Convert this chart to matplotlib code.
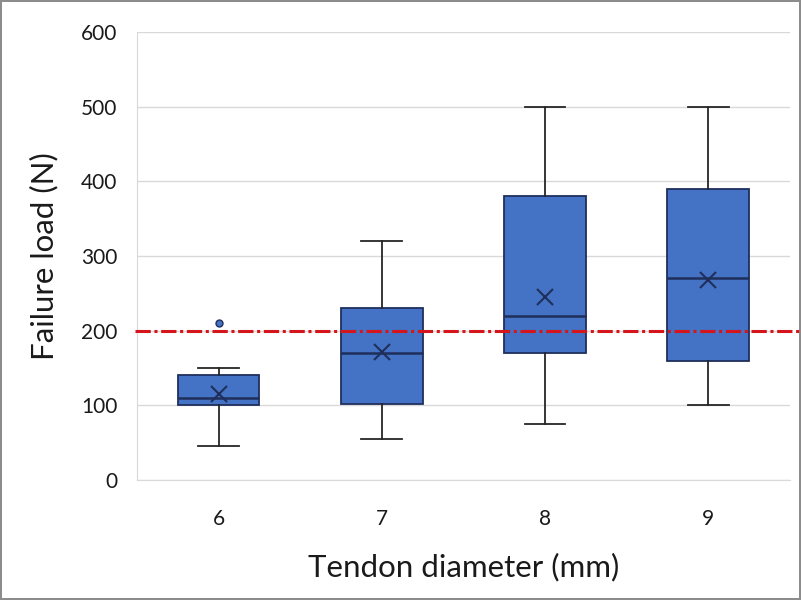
import matplotlib.pyplot as plt

diameters = ["6", "7", "8", "9"]
whisker_lo = [46, 55, 75, 100]
q1 = [100, 102, 170, 160]
medians = [110, 170, 220, 270]
q3 = [140, 230, 380, 390]
whisker_hi = [150, 320, 500, 500]
means = [115, 171, 245, 268]
outliers = [[210], [], [], []]
threshold = 200

blue = "#4472C4"
navy = "#1F2F5C"

plt.rcParams['font.family'] = ['Lato', 'DejaVu Sans']

fig = plt.figure(figsize=(8.01, 6.0), dpi=100)
fig.patch.set_edgecolor("#8c8c8c")
fig.patch.set_linewidth(1.5)
ax = fig.add_axes([0.171, 0.2, 0.815, 0.7467])

stats = []
for i in range(len(diameters)):
    stats.append(dict(label=diameters[i], whislo=whisker_lo[i], q1=q1[i], med=medians[i],
                      q3=q3[i], whishi=whisker_hi[i], mean=means[i], fliers=outliers[i]))

ax.bxp(stats, positions=range(1, 5), widths=0.5, patch_artist=True, showmeans=True,
       boxprops=dict(facecolor=blue, edgecolor=navy, linewidth=1.3),
       medianprops=dict(color=navy, linewidth=1.8),
       whiskerprops=dict(color="#262626", linewidth=1.3),
       capprops=dict(color="#262626", linewidth=1.3),
       meanprops=dict(marker="x", markeredgecolor=navy, markersize=11, markeredgewidth=1.5),
       flierprops=dict(marker="o", markerfacecolor=blue, markeredgecolor=navy, markersize=5))

ax.axhline(threshold, xmin=-0.003, xmax=1.02, color="#D4161C", linestyle=(0, (5, 1.2, 1, 1.2)),
           linewidth=2.2, clip_on=False, zorder=5)

ax.set_xlim(0.5, 4.5)
ax.set_ylim(0, 600)
ax.set_yticks(range(0, 601, 100))
ax.grid(axis="y", color="#d9d9d9", linewidth=1)
ax.set_axisbelow(True)
for s in ["top", "right"]:
    ax.spines[s].set_visible(False)
for s in ["left", "bottom"]:
    ax.spines[s].set_color("#d9d9d9")
ax.tick_params(length=0, labelsize=15, colors="#1a1a1a")
ax.tick_params(axis="x", pad=21)
ax.tick_params(axis="y", pad=14)

ax.set_xlabel("Tendon diameter (mm)", fontsize=22.5, color="#1a1a1a", labelpad=17)
ax.set_ylabel("Failure load (N)", fontsize=22.5, color="#1a1a1a", labelpad=16)

fig.savefig("out.png", dpi=100)
